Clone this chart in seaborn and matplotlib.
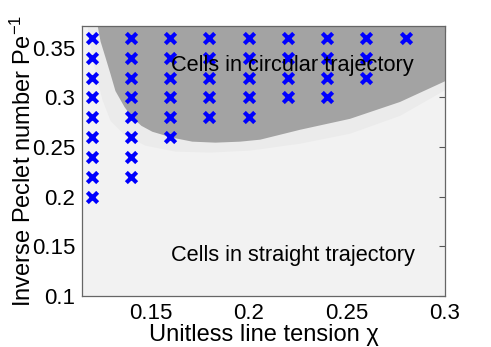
import numpy as np
import pandas as pd
import seaborn as sns
import matplotlib.pyplot as plt

# Simulation grid points that gave circular motion
chi_vals = [0.12] * 9 + [0.14] * 8 + [0.16] * 6 + [0.18] * 5 + [0.20] * 5 + \
           [0.22] * 4 + [0.24] * 4 + [0.26] * 3 + [0.28]
pe_vals = [0.20, 0.22, 0.24, 0.26, 0.28, 0.30, 0.32, 0.34, 0.36,
           0.22, 0.24, 0.26, 0.28, 0.30, 0.32, 0.34, 0.36,
           0.26, 0.28, 0.30, 0.32, 0.34, 0.36,
           0.28, 0.30, 0.32, 0.34, 0.36,
           0.28, 0.30, 0.32, 0.34, 0.36,
           0.30, 0.32, 0.34, 0.36,
           0.30, 0.32, 0.34, 0.36,
           0.32, 0.34, 0.36,
           0.36]

# Phase boundary (dark region)
bound_x = [0.1226, 0.1242, 0.1267, 0.1293, 0.1318, 0.1364, 0.1400, 0.1450,
           0.1506, 0.1608, 0.1710, 0.1827, 0.1954, 0.2056, 0.226, 0.2514,
           0.2769, 0.300]
bound_y = [0.374, 0.357, 0.341, 0.324, 0.307, 0.291, 0.281, 0.272,
           0.266, 0.260, 0.256, 0.255, 0.256, 0.258, 0.268, 0.279,
           0.296, 0.317]

# Lighter transition band around it
band_x = [0.1175, 0.1200, 0.1226, 0.1252, 0.1293, 0.1369, 0.1471, 0.1623,
          0.1801, 0.2005, 0.226, 0.2514, 0.2769, 0.300]
band_y = [0.374, 0.341, 0.318, 0.298, 0.277, 0.262, 0.252, 0.246,
          0.245, 0.247, 0.254, 0.264, 0.282, 0.308]

xticks = [0.15, 0.2, 0.25, 0.3]
xticklabels = ['0.15', '0.2', '0.25', '0.3']
yticks = [0.1, 0.15, 0.2, 0.25, 0.3, 0.35]
yticklabels = ['0.1', '0.15', '0.2', '0.25', '0.3', '0.35']

df = pd.DataFrame({'chi': chi_vals, 'pe': pe_vals})

sns.set_style('white')
plt.rcParams['font.family'] = ['Liberation Sans', 'DejaVu Sans']
plt.rcParams['mathtext.fontset'] = 'custom'
plt.rcParams['mathtext.rm'] = 'Liberation Sans'
plt.rcParams['mathtext.it'] = 'Liberation Sans:italic'
plt.rcParams['text.color'] = 'black'
plt.rcParams['axes.labelcolor'] = 'black'
plt.rcParams['xtick.color'] = 'black'
plt.rcParams['ytick.color'] = 'black'

fig = plt.figure(figsize=(4.91, 3.47), dpi=100)
ax = fig.add_axes([0.167, 0.147, 0.739, 0.778])
ax.set_facecolor('#f2f2f2')

ax.fill_between(band_x, band_y, 0.38, color='#ebebeb', lw=0, zorder=1)
ax.fill_between(bound_x, bound_y, 0.38, color='#a3a3a3', lw=0, zorder=2)

sns.scatterplot(data=df, x='chi', y='pe', marker='x', color='blue',
                s=55, linewidth=3, ax=ax, zorder=4)

ax.text(0.1604, 0.332, 'Cells in circular trajectory', fontsize=15.7,
        va='center', ha='left', zorder=5)
ax.text(0.1604, 0.141, 'Cells in straight trajectory', fontsize=15.7,
        va='center', ha='left', zorder=5)

ax.set_xlim(0.115, 0.3)
ax.set_ylim(0.1, 0.372)
ax.set_xticks(xticks)
ax.set_xticklabels(xticklabels)
ax.set_yticks(yticks)
ax.set_yticklabels(yticklabels)
ax.tick_params(direction='in', top=True, right=True, length=4, width=0.8,
               colors='black', labelsize=16, pad=5)
ax.tick_params(color='#555555')
for s in ax.spines.values():
    s.set_color('#666666')
    s.set_linewidth(0.9)

ax.set_xlabel('Unitless line tension χ', fontsize=17, labelpad=0)
ax.set_ylabel('Inverse Peclet number Pe$^{-1}$', fontsize=17, labelpad=-3)

fig.savefig('out.png', dpi=100)
